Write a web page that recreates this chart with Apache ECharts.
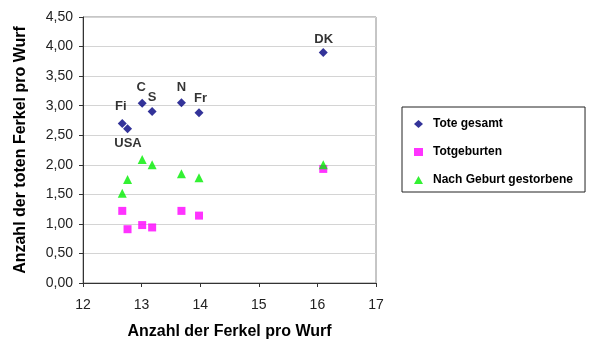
<!DOCTYPE html>
<html>
<head>
<meta charset="utf-8">
<script src="https://cdn.jsdelivr.net/npm/echarts@6/dist/echarts.min.js"></script>
<style>html,body{margin:0;padding:0;background:#fff}#c{width:590px;height:358px}</style>
</head>
<body>
<div id="c"></div>
<script>
const countries = ['Fi', 'USA', 'C', 'S', 'N', 'Fr', 'DK'];
const ferkelProWurf = [12.67, 12.76, 13.01, 13.18, 13.68, 13.98, 16.1];
const toteGesamt = [2.70, 2.61, 3.04, 2.90, 3.05, 2.88, 3.90];
const totgeburten = [1.22, 0.91, 0.98, 0.94, 1.22, 1.14, 1.93];
const nachGeburtGestorbene = [1.52, 1.75, 2.09, 2.00, 1.85, 1.78, 2.00];
const seriesNames = ['Tote gesamt', 'Totgeburten', 'Nach Geburt gestorbene'];
const labelOffsets = {Fi: [-1.5, -16.5], USA: [0.5, 15], C: [-1, -16], S: [0, -14], N: [0, -15], Fr: [1.5, -14.5], DK: [0.5, -13]};

const font = 'Arial, "Liberation Sans", sans-serif';
const pair = (ys) => ferkelProWurf.map((x, i) => [x, ys[i]]);

const chart = echarts.init(document.getElementById('c'), null, {renderer: 'canvas'});
chart.setOption({
  animation: false,
  backgroundColor: '#fff',
  textStyle: {fontFamily: font},
  grid: {left: 83, right: 214, top: 17, bottom: 75, show: true, borderColor: '#8c8c8c', borderWidth: 1, backgroundColor: 'transparent'},
  xAxis: {
    type: 'value', min: 12, max: 17, interval: 1,
    name: 'Anzahl der Ferkel pro Wurf', nameLocation: 'middle', nameGap: 41,
    nameTextStyle: {fontFamily: font, fontSize: 16, fontWeight: 'bold', color: '#000'},
    axisLine: {show: true, onZero: false, lineStyle: {color: '#333', width: 1}},
    axisTick: {show: true, length: 4, lineStyle: {color: '#333'}},
    axisLabel: {fontFamily: font, fontSize: 14, color: '#222', margin: 15},
    splitLine: {show: false}
  },
  yAxis: {
    type: 'value', min: 0, max: 4.5, interval: 0.5,
    name: 'Anzahl der toten Ferkel pro Wurf', nameLocation: 'middle', nameGap: 54,
    nameTextStyle: {fontFamily: font, fontSize: 16, fontWeight: 'bold', color: '#000'},
    axisLine: {show: true, onZero: false, lineStyle: {color: '#333', width: 1}},
    axisTick: {show: true, length: 4, lineStyle: {color: '#333'}},
    axisLabel: {fontFamily: font, fontSize: 14, color: '#222', margin: 10,
      formatter: (v) => v.toFixed(2).replace('.', ',')},
    splitLine: {show: true, lineStyle: {color: '#d4d4d4', width: 1}}
  },
  legend: {
    orient: 'vertical', left: 402, top: 107,
    data: seriesNames,
    itemWidth: 9, itemHeight: 8, itemGap: 16,
    padding: [11, 12, 6, 12],
    borderColor: '#222', borderWidth: 1,
    textStyle: {fontFamily: font, fontSize: 12, fontWeight: 'bold', color: '#000', padding: [0, 0, 0, 5]}
  },
  series: [
    {
      name: seriesNames[0], type: 'scatter', symbol: 'diamond', symbolSize: 9,
      itemStyle: {color: '#000080'},
      data: pair(toteGesamt).map((p, i) => ({
        value: p,
        label: {show: true, position: 'inside', formatter: countries[i], offset: labelOffsets[countries[i]],
          fontFamily: font, fontSize: 13, fontWeight: 'bold', color: '#000'}
      }))
    },
    {
      name: seriesNames[1], type: 'scatter', symbol: 'rect', symbolSize: 8,
      itemStyle: {color: '#ff00ff'},
      data: pair(totgeburten)
    },
    {
      name: seriesNames[2], type: 'scatter', symbol: 'triangle', symbolSize: 9,
      itemStyle: {color: '#00ee00'},
      data: pair(nachGeburtGestorbene)
    }
  ]
});
</script>
</body>
</html>
